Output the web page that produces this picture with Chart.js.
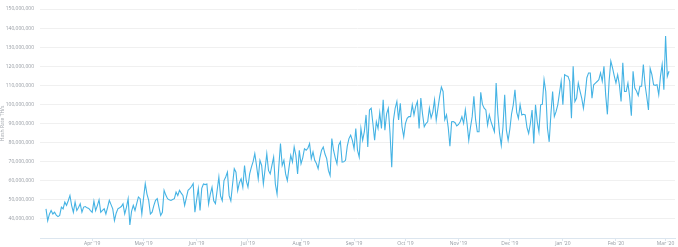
<!DOCTYPE html>
<html>
<head>
<meta charset="utf-8">
<script src="https://cdn.jsdelivr.net/npm/chart.js@4.4.1/dist/chart.umd.min.js"></script>
<style>
  html, body { margin: 0; padding: 0; background: #fff; }
  #wrap { width: 678px; height: 247px; position: relative; }
</style>
</head>
<body>
<div id="wrap"><canvas id="chart"></canvas></div>
<script>
// daily hash rate, millions of TH/s, 5 Mar 2019 -> 3 Mar 2020
const startDate = '2019-03-05'
const hashRate = [
  45.3, 39.1, 42.5, 44.4, 42.6, 43.5, 42.0, 41.2, 41.8, 46.2, 45.3, 48.8, 47.1, 49.5, 52.3, 47.0,
  43.5, 48.8, 44.4, 46.0, 47.9, 43.5, 46.2, 46.5, 45.8, 45.5, 44.4, 43.5, 49.3, 44.4, 47.0, 50.0,
  43.5, 44.5, 45.3, 42.6, 46.0, 49.7, 47.5, 45.3, 39.1, 43.0, 45.3, 45.8, 46.5, 47.9, 42.6, 46.0,
  50.6, 36.8, 44.0, 47.1, 44.4, 48.0, 51.5, 50.6, 42.6, 51.0, 58.5, 53.0, 49.7, 42.6, 43.5, 47.0,
  49.7, 50.6, 46.0, 41.8, 43.5, 55.0, 52.5, 50.6, 50.0, 49.7, 50.2, 50.6, 54.1, 52.3, 55.0, 53.5,
  52.3, 47.1, 51.0, 55.0, 55.9, 57.0, 58.5, 43.5, 50.0, 55.9, 44.4,
  56.0, 58.3, 58.0, 58.3, 47.8, 53.0, 56.6, 49.5, 48.0, 55.0, 61.9, 52.0, 49.5, 60.1, 62.0, 64.5,
  52.2, 49.5, 58.0, 66.3, 64.5, 54.8, 59.0, 61.0, 56.6, 68.0, 60.0, 56.6, 63.6, 67.1, 70.0, 74.2,
  68.0, 61.0, 70.7, 68.0, 58.3, 66.0, 74.2, 65.4, 63.6, 68.0, 72.4, 58.3, 53.0, 67.0, 79.5, 68.0,
  70.7, 63.6, 60.1, 67.0, 73.3, 69.8, 77.7, 73.3, 63.6, 76.0, 68.9, 72.0, 76.8, 76.0, 77.0, 79.5,
  71.6, 75.1, 70.7, 69.0, 66.3, 72.0, 76.0, 77.7, 74.0, 71.6, 65.4, 62.7, 82.1, 76.0, 72.0, 68.9,
  78.6, 80.4, 69.8, 70.0, 70.7, 78.0, 82.1, 83.9, 81.2, 76.8,
  87.4, 76.0, 72.4, 87.4, 81.2, 85.7, 94.5, 77.7, 97.1, 98.0, 90.0, 81.2, 90.9, 87.4, 95.7, 87.4,
  102.4, 86.5, 95.0, 98.0, 85.0, 67.1, 91.8, 98.0, 101.5, 91.8, 100.6, 88.3, 83.0, 90.0, 92.7, 93.6,
  93.6, 99.8, 94.5, 99.0, 101.5, 87.4, 103.3, 95.0, 88.3, 90.0, 90.9, 98.0, 93.0, 96.0, 102.4, 91.8,
  98.0, 104.2, 109.1, 106.8, 92.0, 94.5, 88.0, 78.1, 90.9, 91.0, 90.4, 88.7, 89.5, 90.9, 93.6, 90.1,
  97.1, 90.1, 81.2, 88.0, 93.6, 104.2, 92.0, 85.7, 85.7, 106.3, 100.0, 98.0, 97.1, 89.2, 94.5, 91.0,
  88.3, 85.7, 111.2, 95.0, 84.8, 78.6, 88.3, 105.0, 86.5, 81.2,
  87.0, 95.0, 99.8, 107.7, 96.0, 92.7, 99.8, 94.5, 94.8, 94.5, 88.0, 84.8, 90.0, 97.1, 79.5, 99.8,
  91.0, 85.7, 99.8, 100.1, 113.0, 106.8, 87.4, 80.4, 95.0, 106.8, 93.6, 96.2, 99.8, 106.0, 112.1, 99.8,
  115.6, 115.0, 114.7, 112.1, 92.7, 120.0, 101.5, 103.3, 111.2, 107.0, 103.3, 98.0, 105.0, 114.0, 116.5, 116.5,
  103.3, 110.3, 111.2, 112.0, 113.0, 116.5, 112.1, 120.0, 105.0, 94.8, 112.1, 122.7, 119.1, 115.0, 111.2, 115.6,
  110.3, 101.5, 121.8, 106.8, 106.8, 111.2, 104.0, 94.1, 117.4, 108.6, 107.0, 104.7, 109.5, 109.5, 120.9, 110.3,
  104.0, 97.1, 118.8, 115.6, 110.3, 110.0, 110.3, 105.0, 114.7, 120.9, 107.7, 135.9, 114.7, 117.4
]
const monthNames = ['Jan', 'Feb', 'Mar', 'Apr', 'May', 'Jun', 'Jul', 'Aug', 'Sep', 'Oct', 'Nov', 'Dec']

// one date per point
const dates = hashRate.map((_, i) => {
  const d = new Date(startDate + 'T00:00:00Z')
  d.setUTCDate(d.getUTCDate() + i)
  return d
})

// month ticks: index of each 1st of the month
const monthTicks = []
const monthLabels = []
dates.forEach((d, i) => {
  if (d.getUTCDate() === 1) {
    monthTicks.push(i)
    monthLabels.push(monthNames[d.getUTCMonth()] + " '" + String(d.getUTCFullYear()).slice(2))
  }
})

const ctx = document.getElementById('chart').getContext('2d')

new Chart(ctx, {
  type: 'line',
  data: {
    datasets: [{
      label: 'Hash Rate',
      data: hashRate.map((v, i) => ({ x: i, y: v * 1e6 })),
      borderColor: '#45b3e4',
      borderWidth: 1.1,
      pointRadius: 0,
      tension: 0,
      fill: false
    }]
  },
  options: {
    responsive: true,
    maintainAspectRatio: false,
    animation: false,
    layout: { padding: { top: 8, right: 3, left: 0, bottom: 0 } },
    plugins: {
      legend: { display: false },
      tooltip: { enabled: false }
    },
    scales: {
      x: {
        type: 'linear',
        min: -3.5,
        max: hashRate.length - 1 + 3.5,
        afterBuildTicks: (scale) => {
          scale.ticks = monthTicks.map(v => ({ value: v }))
        },
        afterFit: (scale) => { scale.height = 9 },
        border: { color: '#dce6ef', width: 1 },
        grid: { drawOnChartArea: false, color: '#dce6ef', tickLength: 3 },
        ticks: {
          autoSkip: false,
          maxRotation: 0,
          padding: 0,
          color: '#959aa2',
          font: { family: 'Open Sans', size: 5 },
          callback: (value) => {
            const k = monthTicks.indexOf(value)
            return k >= 0 ? monthLabels[k] : null
          }
        }
      },
      y: {
        min: 30000000,
        max: 150000000,
        afterFit: (scale) => { scale.width = 40 },
        border: { display: false },
        grid: { color: '#f0f0f0', lineWidth: 1, drawTicks: false },
        title: {
          display: true,
          text: 'Hash Rate TH/s',
          color: '#a3a8ae',
          font: { family: 'Open Sans', size: 5 },
          padding: 0
        },
        ticks: {
          stepSize: 10000000,
          padding: 6,
          color: '#959aa2',
          font: { family: 'Open Sans', size: 5 },
          callback: (value) => value === 30000000 ? '' : value.toLocaleString('en-US')
        }
      }
    }
  }
})
</script>
</body>
</html>
